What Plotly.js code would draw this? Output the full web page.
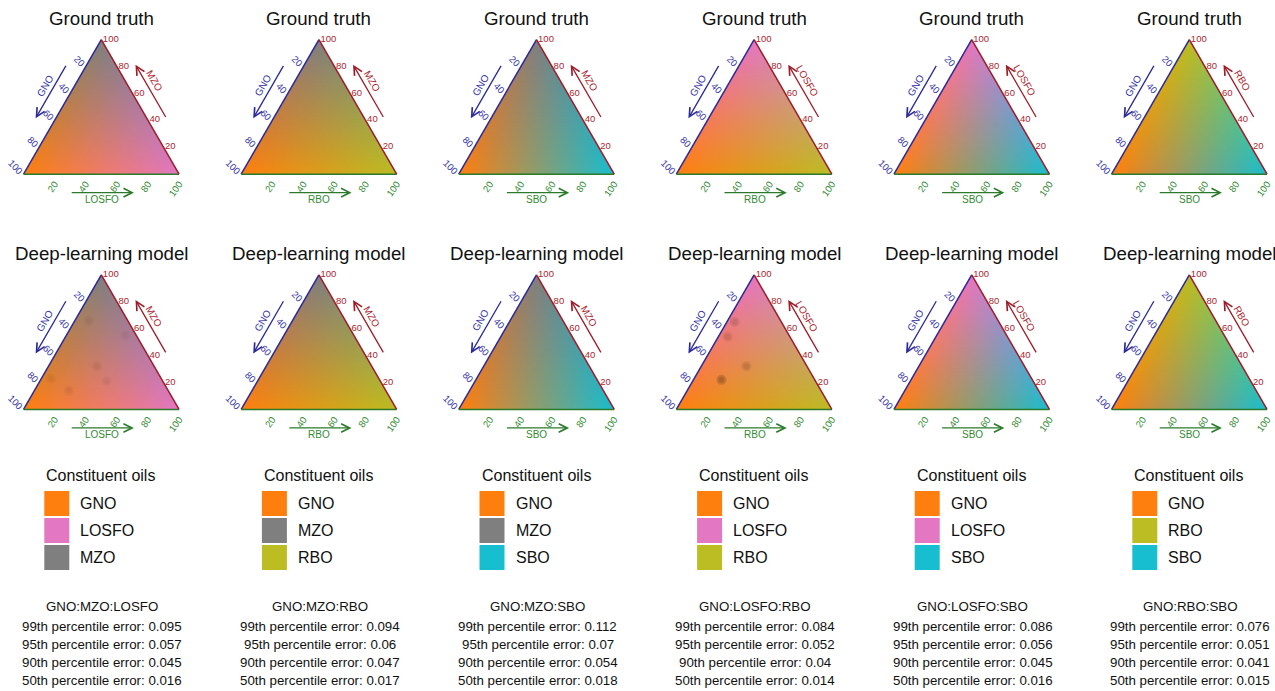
<!DOCTYPE html>
<html><head><meta charset="utf-8">
<script src="https://cdn.plot.ly/plotly-3.0.1.min.js"></script>
<style>html,body{margin:0;padding:0;background:#fff;} #chart{width:1275px;height:691px;}</style>
</head><body><div id="chart"></div>
<script>
// ---------------- data ----------------
const oilColors = {GNO:'#ff7f0e', LOSFO:'#e377c2', MZO:'#7f7f7f', RBO:'#bcbd22', SBO:'#17becf'};
const mixtures = ['GNO:MZO:LOSFO','GNO:MZO:RBO','GNO:MZO:SBO','GNO:LOSFO:RBO','GNO:LOSFO:SBO','GNO:RBO:SBO'];
const leftOil   = ['GNO','GNO','GNO','GNO','GNO','GNO'];        // bottom-left vertex
const rightOil  = ['MZO','MZO','MZO','LOSFO','LOSFO','RBO'];    // top vertex
const bottomOil = ['LOSFO','RBO','SBO','RBO','SBO','SBO'];      // bottom-right vertex
const legendOils = [['GNO','LOSFO','MZO'],['GNO','MZO','RBO'],['GNO','MZO','SBO'],
                    ['GNO','LOSFO','RBO'],['GNO','LOSFO','SBO'],['GNO','RBO','SBO']];
const err99 = [0.095,0.094,0.112,0.084,0.086,0.076];
const err95 = [0.057,0.06,0.07,0.052,0.056,0.051];
const err90 = [0.045,0.047,0.054,0.04,0.045,0.041];
const err50 = [0.016,0.017,0.018,0.014,0.016,0.015];
const rowTitles = ['Ground truth','Deep-learning model'];
const tickValues = [20,40,60,80,100];
const legendTitle = 'Constituent oils';
// darker prediction blotches visible in the deep-learning panels (top %, left %, bottom %)
const spotPanel = [0,0,0,0,0,0,3,3,3,3];
const spotTop   = [32,14,21,66,55,23,65,32,22,54];
const spotLeft  = [37,64,36,25,7,71,30,39,60,40];
const spotBot   = [31,22,43,9,38,6,5,29,18,6];
const spotDark  = [0.05,0.05,0.045,0.045,0.04,0.045,0.1,0.11,0.2,0.09];

// ---------------- style ----------------
const W = 1275, Hpx = 691;
const FONT = 'Liberation Sans, Arial, Helvetica, sans-serif';
const BLUE = '#2a2a9c', BLUE_T = '#3232a8';
const RED = '#9e1c2a', RED_T = '#ad2630';
const GREEN = '#2b7a2b', GREEN_T = '#338a33';
const S = 155.5, TH = S*Math.sqrt(3)/2;
const colCenter = c => 101.3 + 217.6*c;
const rowTop = [39.5, 274.8];
const px = x => x/W, py = y => 1 - y/Hpx;
const N = 40;

function hexToRgb(h){return [parseInt(h.slice(1,3),16),parseInt(h.slice(3,5),16),parseInt(h.slice(5,7),16)];}

const data = [];
const layout = {
  width: W, height: Hpx, margin:{l:0,r:0,t:0,b:0},
  paper_bgcolor:'#fff', plot_bgcolor:'#fff', showlegend:false, hovermode:false,
  font:{family:FONT, color:'#111'},
  annotations:[], shapes:[]
};

for (let r=0; r<2; r++) {
  for (let c=0; c<6; c++) {
    const idx = r*6 + c + 1;
    const tid = idx===1 ? 'ternary' : 'ternary'+idx;
    const cx = colCenter(c), top = rowTop[r], yB = top + TH, xL = cx - S/2;
    const ca = hexToRgb(oilColors[rightOil[c]]);
    const cb = hexToRgb(oilColors[leftOil[c]]);
    const cc = hexToRgb(oilColors[bottomOil[c]]);
    const A=[],B=[],C=[],col=[];
    for (let i=0;i<=N;i++) for (let j=0;j<=N-i;j++) {
      const a=i/N, b=j/N, cc_=1-a-b;
      A.push(a*100); B.push(b*100); C.push(cc_*100);
      const m = [0,1,2].map(k=>Math.round(a*ca[k]+b*cb[k]+cc_*cc[k]));
      col.push('rgb('+m.join(',')+')');
    }
    data.push({type:'scatterternary', subplot:tid, mode:'markers', a:A, b:B, c:C,
      marker:{size:6, color:col, line:{width:0}}, cliponaxis:true, hoverinfo:'skip'});

    if (r===1) {
      const sA=[],sB=[],sC=[],sCol=[];
      spotPanel.forEach((p,k)=>{ if(p===c){ sA.push(spotTop[k]); sB.push(spotLeft[k]); sC.push(spotBot[k]);
        sCol.push('rgba(70,35,15,'+spotDark[k]+')'); }});
      if (sA.length) {
        data.push({type:'scatterternary', subplot:tid, mode:'markers', a:sA, b:sB, c:sC,
          marker:{size:10, color:sCol, line:{width:0}}, cliponaxis:true, hoverinfo:'skip'});
        data.push({type:'scatterternary', subplot:tid, mode:'markers', a:sA, b:sB, c:sC,
          marker:{size:6, color:sCol, line:{width:0}}, cliponaxis:true, hoverinfo:'skip'});
      }
    }

    const axBase = {title:{text:''}, tickmode:'array', tickvals:tickValues.map(v=>100-v),
      ticktext:tickValues.map(String), ticks:'', showgrid:false, showline:true, linewidth:1.5};
    layout[tid] = {
      domain:{x:[px(xL), px(xL+S)], y:[py(yB), py(top)]}, sum:100, bgcolor:'rgba(0,0,0,0)',
      aaxis:Object.assign({}, axBase, {linecolor:BLUE, tickfont:{size:9.5,color:BLUE_T,family:FONT}, tickangle:45}),
      baxis:Object.assign({}, axBase, {linecolor:GREEN, tickfont:{size:9.5,color:GREEN_T,family:FONT}, tickangle:-55}),
      caxis:Object.assign({}, axBase, {linecolor:RED, tickfont:{size:9.5,color:RED_T,family:FONT}, tickangle:0})
    };

    // row title
    layout.annotations.push({xref:'paper',yref:'paper',x:px(cx),y:py(r===0?18:253),text:rowTitles[r],
      showarrow:false,xanchor:'center',yanchor:'middle',font:{size:18.7,color:'#111',family:FONT}});

    // edge titles + arrows
    const sq = Math.sqrt(3)/2;
    const leftPt = (t,off)=>[xL + t*S*0.5 - off*sq, yB - t*TH - off*0.5];
    const rightPt = (t,off)=>[xL + S - t*S*0.5 + off*sq, yB - t*TH - off*0.5];
    // left (GNO) arrow pointing down-left
    let hd = leftPt(0.35,17.5), tl = leftPt(0.75,17.5);
    layout.annotations.push({xref:'paper',yref:'paper',x:px(hd[0]),y:py(hd[1]),ax:tl[0]-hd[0],ay:tl[1]-hd[1],
      text:'',showarrow:true,arrowhead:5,arrowsize:1.3,arrowwidth:1.3,arrowcolor:BLUE,standoff:0,startstandoff:0});
    let tp = leftPt(0.565,26);
    layout.annotations.push({xref:'paper',yref:'paper',x:px(tp[0]),y:py(tp[1]),text:leftOil[c],textangle:-60,
      showarrow:false,xanchor:'center',yanchor:'middle',font:{size:10,color:BLUE_T,family:FONT}});
    // right arrow pointing up-left
    hd = rightPt(0.75,17); tl = rightPt(0.35,17);
    layout.annotations.push({xref:'paper',yref:'paper',x:px(hd[0]),y:py(hd[1]),ax:tl[0]-hd[0],ay:tl[1]-hd[1],
      text:'',showarrow:true,arrowhead:5,arrowsize:1.3,arrowwidth:1.3,arrowcolor:RED,standoff:0,startstandoff:0});
    tp = rightPt(0.6,25);
    layout.annotations.push({xref:'paper',yref:'paper',x:px(tp[0]),y:py(tp[1]),text:rightOil[c],textangle:60,
      showarrow:false,xanchor:'center',yanchor:'middle',font:{size:10,color:RED_T,family:FONT}});
    // bottom arrow pointing right
    layout.annotations.push({xref:'paper',yref:'paper',x:px(xL+0.71*S),y:py(yB+18.5),ax:-(0.41*S),ay:0,
      text:'',showarrow:true,arrowhead:5,arrowsize:1.3,arrowwidth:1.3,arrowcolor:GREEN,standoff:0,startstandoff:0});
    layout.annotations.push({xref:'paper',yref:'paper',x:px(xL+0.503*S),y:py(yB+25.5),text:bottomOil[c],
      showarrow:false,xanchor:'center',yanchor:'middle',font:{size:10,color:GREEN_T,family:FONT}});

    if (r===0) {
      // legend
      const lx = cx - 57;
      layout.annotations.push({xref:'paper',yref:'paper',x:px(lx),y:py(475),text:legendTitle,showarrow:false,
        xanchor:'left',yanchor:'middle',font:{size:16,color:'#111',family:FONT}});
      legendOils[c].forEach((oil,k)=>{
        const y0 = 491 + 27*k;
        layout.shapes.push({type:'rect',xref:'paper',yref:'paper',x0:px(lx),x1:px(lx+25),y0:py(y0),y1:py(y0+25),
          fillcolor:oilColors[oil],line:{width:0}});
        layout.annotations.push({xref:'paper',yref:'paper',x:px(cx-23),y:py(y0+12.5),text:oil,showarrow:false,
          xanchor:'left',yanchor:'middle',font:{size:16,color:'#111',family:FONT}});
      });
      // errors
      const lines = [mixtures[c], '99th percentile error: '+err99[c], '95th percentile error: '+err95[c],
                     '90th percentile error: '+err90[c], '50th percentile error: '+err50[c]];
      const ys = [606.7, 626, 644.3, 662.7, 680.7];
      lines.forEach((t,k)=>{
        layout.annotations.push({xref:'paper',yref:'paper',x:px(cx+1),y:py(ys[k]),text:t,showarrow:false,
          xanchor:'center',yanchor:'middle',font:{size:13.3,color:'#111',family:FONT}});
      });
    }
  }
}

Plotly.newPlot('chart', data, layout, {displayModeBar:false, staticPlot:true});
</script></body></html>
